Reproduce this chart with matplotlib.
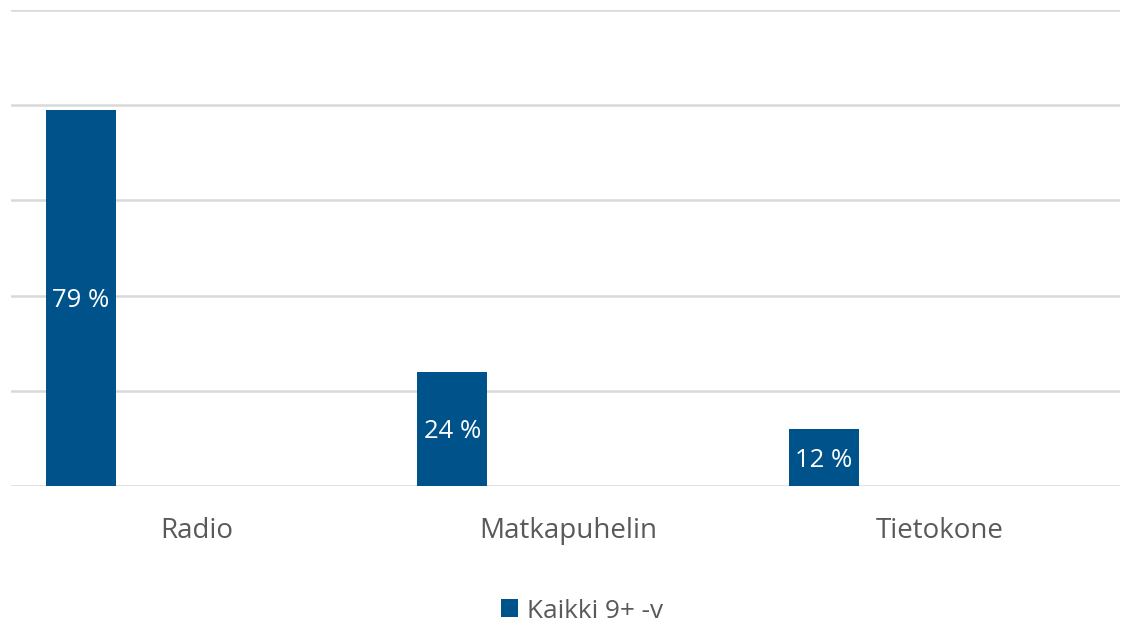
import matplotlib.pyplot as plt
import numpy as np

# data
categories = ['Radio', 'Matkapuhelin', 'Tietokone']
values = [79, 24, 12]
series_name = 'Kaikki 9+ -v'
yticks = [0, 20, 40, 60, 80, 100]

BAR_COLOR = '#00538A'
GRID_COLOR = '#D9D9D9'
TEXT_COLOR = '#595959'

plt.rcParams['font.family'] = ['Open Sans', 'DejaVu Sans']

fig = plt.figure(figsize=(11.21, 6.23), dpi=100)
ax = fig.add_axes([11 / 1121, 137 / 623, 1109 / 1121, 476 / 623])

x = np.arange(len(categories))
# bars sit at the left side of each category slot
bars = ax.bar(x - 0.5 + 0.094, values, width=0.188, align='edge',
              color=BAR_COLOR, label=series_name, zorder=3)

for b, v in zip(bars, values):
    ax.text(b.get_x() + b.get_width() / 2, v / 2 - 0.6, f'{v} %', ha='center', va='center',
            color='white', fontsize=18.5, zorder=4)

ax.set_xlim(-0.5, 2.485)
ax.set_ylim(0, 100)
ax.set_yticks(yticks)
ax.yaxis.grid(True, color=GRID_COLOR, linewidth=1.8, zorder=0)
ax.tick_params(axis='y', left=False, labelleft=False)
ax.set_xticks(x)
ax.set_xticklabels(categories, fontsize=20, color=TEXT_COLOR)
ax.tick_params(axis='x', length=0, pad=22)
for s in ax.spines.values():
    s.set_visible(False)

fig.legend(handles=[bars], labels=[series_name], loc='center', bbox_to_anchor=(582 / 1121, 1 - 611 / 623),
           frameon=False, fontsize=18.8, labelcolor=TEXT_COLOR, handlelength=0.68, handleheight=0.68,
           handletextpad=0.35)

fig.savefig('out.png', dpi=100)
